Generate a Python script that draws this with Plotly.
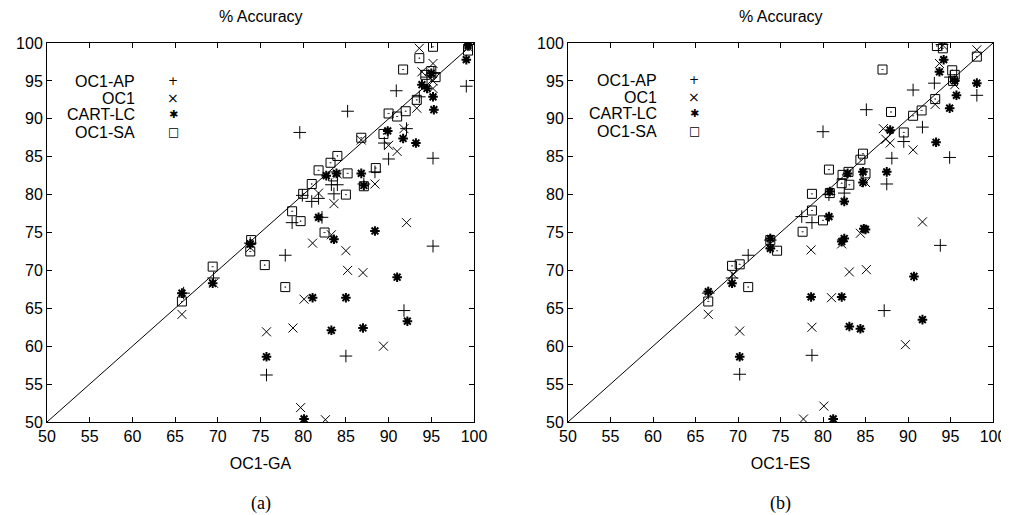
import plotly.graph_objects as go

# ---------------- data ----------------
# Panel (a): x = OC1-GA accuracy, y = accuracy of other method
ga_ap_x = [66.0, 69.5, 73.8, 75.7, 77.9, 78.7, 79.6, 79.9, 81.0, 81.8, 82.2, 83.3, 84.0, 83.6, 85.0, 85.2, 87.1, 88.4, 89.5, 90.0, 90.9, 91.8, 92.1, 93.6, 95.2, 95.2, 99.1, 99.5, 94.5, 95.3]
ga_ap_y = [67.0, 69.0, 73.6, 56.2, 72.0, 76.3, 88.2, 79.9, 79.1, 79.5, 77.0, 81.3, 81.3, 80.1, 58.7, 91.0, 81.4, 83.0, 86.8, 84.7, 93.7, 64.7, 88.7, 92.9, 84.8, 73.2, 94.3, 99.8, 95.5, 96.0]

ga_oc1_x = [65.8, 69.5, 73.8, 75.7, 78.8, 79.7, 82.6, 80.1, 81.1, 81.8, 83.3, 83.6, 84.0, 85.0, 85.2, 87.0, 86.8, 88.4, 89.4, 90.0, 91.0, 91.8, 92.1, 93.3, 93.6, 93.9, 95.2, 95.2, 95.2, 99.3]
ga_oc1_y = [64.2, 68.3, 73.0, 61.9, 62.4, 51.9, 50.3, 66.2, 73.6, 80.2, 74.7, 78.8, 82.7, 72.6, 70.0, 69.7, 87.2, 81.4, 60.0, 86.5, 85.7, 88.7, 76.3, 91.4, 99.3, 96.2, 97.3, 95.0, 94.0, 99.5]

ga_cart_x = [65.8, 69.4, 73.8, 75.7, 80.1, 81.1, 81.8, 82.7, 83.3, 83.6, 83.9, 85.0, 86.8, 87.0, 87.1, 88.4, 89.9, 91.0, 91.7, 92.2, 93.2, 93.9, 94.5, 95.2, 95.3, 95.0, 99.1, 99.3]
ga_cart_y = [67.0, 68.3, 73.5, 58.6, 50.4, 66.4, 77.0, 82.5, 62.1, 74.1, 82.8, 66.4, 82.8, 62.4, 81.2, 75.2, 88.4, 69.1, 87.4, 63.3, 86.8, 94.5, 94.0, 92.9, 91.2, 96.0, 97.8, 99.7]

ga_sa_x = [65.8, 69.4, 73.8, 73.9, 75.5, 77.9, 78.7, 79.7, 80.0, 81.0, 81.8, 82.5, 83.2, 83.5, 84.0, 85.0, 85.2, 87.1, 86.8, 88.5, 89.4, 90.0, 91.0, 91.7, 92.0, 93.3, 93.6, 94.3, 95.0, 95.5, 95.2, 99.3]
ga_sa_y = [65.9, 70.5, 72.5, 74.0, 70.7, 67.8, 77.8, 76.5, 80.1, 81.4, 83.2, 75.0, 84.2, 82.4, 85.1, 80.0, 82.8, 81.1, 87.5, 83.5, 88.0, 90.7, 90.3, 96.5, 91.0, 92.5, 98.0, 95.8, 96.3, 95.5, 99.5, 99.0]

# Panel (b): x = OC1-ES accuracy
es_ap_x = [66.5, 69.3, 71.2, 70.2, 73.8, 77.5, 78.7, 78.7, 80.0, 80.7, 82.5, 85.1, 87.2, 87.5, 88.1, 89.5, 90.6, 91.7, 93.1, 93.8, 94.9, 98.1, 95.0, 94.0]
es_ap_y = [67.0, 69.0, 72.0, 56.3, 74.0, 77.1, 76.3, 58.8, 88.3, 80.0, 80.2, 91.2, 64.7, 81.4, 84.8, 87.0, 93.8, 88.9, 94.7, 73.3, 84.9, 93.1, 95.5, 99.8]

es_oc1_x = [66.5, 69.4, 70.2, 73.8, 77.7, 78.6, 78.7, 80.1, 81.0, 82.2, 83.1, 84.4, 85.0, 85.1, 87.1, 87.4, 87.9, 89.7, 90.6, 91.7, 93.2, 93.7, 94.1, 95.5, 98.1]
es_oc1_y = [64.2, 69.5, 62.0, 73.5, 50.4, 72.7, 62.5, 52.1, 66.4, 73.5, 69.8, 74.9, 81.6, 70.1, 88.7, 87.3, 86.8, 60.2, 85.9, 76.4, 91.9, 97.3, 99.7, 94.5, 99.1]

es_cart_x = [66.5, 69.3, 70.2, 73.8, 73.8, 78.6, 80.7, 80.8, 81.2, 82.2, 82.2, 82.5, 82.5, 82.9, 83.1, 84.4, 84.7, 84.7, 84.8, 85.0, 87.5, 87.9, 90.7, 91.7, 93.3, 93.7, 94.2, 94.9, 95.7, 95.5, 98.1]
es_cart_y = [67.2, 68.3, 58.6, 74.2, 72.9, 66.5, 77.1, 80.4, 50.4, 66.5, 73.8, 74.2, 79.1, 82.8, 62.6, 62.3, 81.6, 83.0, 75.5, 75.4, 83.0, 88.5, 69.2, 63.5, 86.9, 96.2, 97.8, 91.4, 93.1, 95.0, 94.7]

es_sa_x = [66.5, 69.3, 70.2, 71.2, 73.8, 74.6, 77.6, 78.7, 78.7, 80.0, 80.7, 80.8, 82.2, 82.3, 83.0, 83.1, 84.4, 84.7, 85.0, 87.0, 88.0, 89.5, 90.6, 91.6, 93.2, 93.4, 94.1, 95.2, 95.5, 95.3, 98.1]
es_sa_y = [65.9, 70.6, 70.8, 67.8, 74.0, 72.6, 75.1, 77.9, 80.1, 76.6, 83.3, 80.2, 81.5, 82.6, 83.0, 81.3, 84.6, 85.4, 82.8, 96.5, 90.9, 88.2, 90.4, 91.1, 92.6, 99.6, 99.3, 96.4, 95.8, 95.0, 98.2]

diag = [50, 100]
tick_vals = [50, 55, 60, 65, 70, 75, 80, 85, 90, 95, 100]
series_names = ["OC1-AP", "OC1", "CART-LC", "OC1-SA"]
legend_glyphs = ["+", "×", "✱", "□"]
x_titles = ["OC1-GA", "OC1-ES"]
panel_labels = ["(a)", "(b)"]
top_title = "% Accuracy"

# ---------------- figure geometry ----------------
# The page body has an 8px margin; figure is sized to fit the 1009x515 window.
OFF = 8
W, H = 1009 - OFF, 515 - OFF


def fx(px):
    return (px - OFF) / W


def fy(py):
    return 1 - (py - OFF) / H


fig = go.Figure()

styles = [
    dict(symbol="cross-thin", size=9, line=dict(width=1, color="black"), color="black"),
    dict(symbol="x-thin", size=9, line=dict(width=1, color="black"), color="black"),
    dict(symbol="asterisk", size=8, line=dict(width=2, color="black"), color="black"),
    dict(symbol="square-open-dot", size=9, line=dict(width=1, color="black"), color="black"),
]
glyph_sizes = [12, 14, 11, 12]

panels = [
    ("x", "y", [(ga_ap_x, ga_ap_y), (ga_oc1_x, ga_oc1_y), (ga_cart_x, ga_cart_y), (ga_sa_x, ga_sa_y)]),
    ("x2", "y2", [(es_ap_x, es_ap_y), (es_oc1_x, es_oc1_y), (es_cart_x, es_cart_y), (es_sa_x, es_sa_y)]),
]

for xa, ya, sers in panels:
    fig.add_trace(go.Scatter(x=diag, y=diag, mode="lines", line=dict(color="black", width=1),
                             xaxis=xa, yaxis=ya, showlegend=False, hoverinfo="skip"))
    for (sx, sy), st, nm in zip(sers, styles, series_names):
        fig.add_trace(go.Scatter(x=sx, y=sy, mode="markers", marker=st, name=nm,
                                 xaxis=xa, yaxis=ya, showlegend=False))

dom_a = [fx(47), fx(474)]
dom_b = [fx(568), fx(993)]
dom_y = [fy(422), fy(43)]

axis_common = dict(range=[50, 100], tickvals=tick_vals, showline=True, linecolor="black", linewidth=1,
                   mirror="ticks", ticks="inside", ticklen=5, tickcolor="black", showgrid=False,
                   zeroline=False, automargin=False,
                   tickfont=dict(family="Liberation Sans", size=16, color="black"))

title_font = dict(family="Liberation Sans", size=16, color="black")

fig.update_layout(
    width=W, height=H,
    margin=dict(l=0, r=0, t=0, b=0, autoexpand=False),
    paper_bgcolor="white", plot_bgcolor="white",
    showlegend=False,
    xaxis=dict(domain=dom_a, anchor="y", title=dict(text=x_titles[0], standoff=13, font=title_font), **axis_common),
    yaxis=dict(domain=dom_y, anchor="x", **axis_common),
    xaxis2=dict(domain=dom_b, anchor="y2", title=dict(text=x_titles[1], standoff=13, font=title_font), **axis_common),
    yaxis2=dict(domain=dom_y, anchor="x2", **axis_common),
)

annotations = []
for dom, lab in zip([dom_a, dom_b], panel_labels):
    cx = (dom[0] + dom[1]) / 2
    annotations.append(dict(text=top_title, x=cx, y=fy(17), xref="paper", yref="paper",
                            showarrow=False, xanchor="center", yanchor="middle", font=title_font))
    annotations.append(dict(text=lab, x=cx, y=fy(503), xref="paper", yref="paper",
                            showarrow=False, xanchor="center", yanchor="middle",
                            font=dict(family="Liberation Serif", size=18, color="black")))

legend_pos = [(137, 173, 81), (659, 694, 80)]
for (tx, sx, ty0) in legend_pos:
    for i, (nm, gl, gs) in enumerate(zip(series_names, legend_glyphs, glyph_sizes)):
        yy = fy(ty0 + i * 17)
        annotations.append(dict(text=nm, x=fx(tx), y=yy, xref="paper", yref="paper",
                                showarrow=False, xanchor="right", yanchor="middle", font=title_font))
        annotations.append(dict(text=gl, x=fx(sx), y=yy, xref="paper", yref="paper",
                                showarrow=False, xanchor="center", yanchor="middle",
                                font=dict(family="DejaVu Sans", size=gs, color="black")))

fig.update_layout(annotations=annotations)

fig.write_html("out.html")
